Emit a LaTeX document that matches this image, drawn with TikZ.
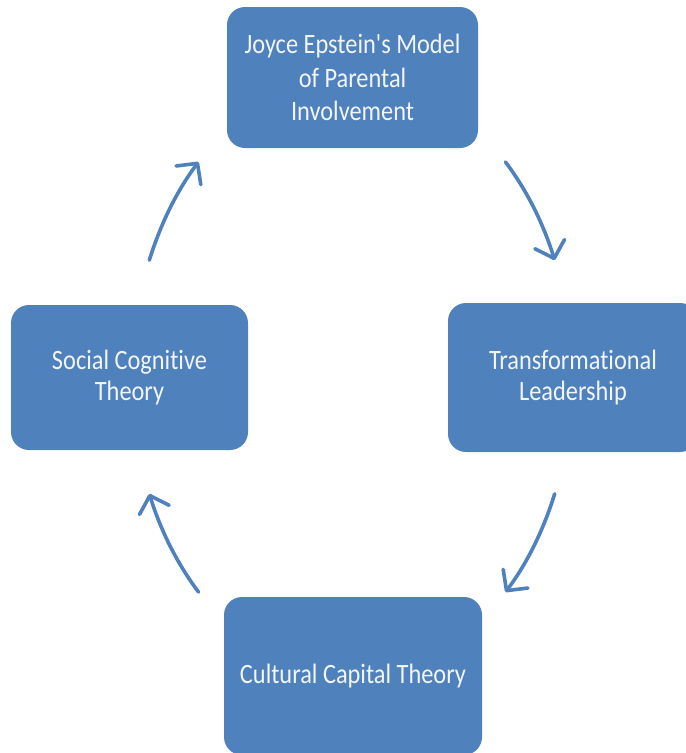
\documentclass[tikz,border=0pt]{standalone}
\usepackage{fontspec}
\newfontfamily\labelfont{Carlito}[FakeStretch=0.87,Ligatures=NoCommon]
\usetikzlibrary{arrows.meta}
\definecolor{cycleblue}{HTML}{4F81BD}
\definecolor{labelwhite}{HTML}{F2F5FA}
\begin{document}
\begin{tikzpicture}[x=1pt,y=1pt,
  stage/.style={rectangle, rounded corners=18pt, fill=cycleblue, text=labelwhite,
    align=center, inner sep=0pt, font=\labelfont\fontsize{28}{31}\selectfont},
  cyclearrow/.style={draw=cycleblue, line width=3.6pt, line cap=round,
    -{Straight Barb[length=15pt,width=31pt,line cap=round,line join=round]}}]
  % page frame
  \useasboundingbox (0,0) rectangle (686,-753);
  \clip (0,0) rectangle (686,-753);

  % the four stages
  \node[stage, minimum width=251pt, minimum height=141pt,
        font=\labelfont\fontsize{28}{33.5}\selectfont] (epstein) at (352.5,-77.5)
    {Joyce Epstein's Model\\of Parental\\Involvement};
  \node[stage, minimum width=250pt, minimum height=149pt] (leader) at (573,-377.5)
    {Transformational\\Leadership};
  \node[stage, minimum width=258pt, minimum height=158pt] (capital) at (353,-676)
    {Cultural Capital Theory};
  \node[stage, minimum width=237pt, minimum height=145pt] (social) at (129.5,-377.5)
    {Social Cognitive\\Theory};

  % centres of the guiding ellipse for the left and right arrows
  \coordinate (cl) at (350,-377);
  \coordinate (cr) at (354,-377);
  \path (cl) ++(157:218pt and 299pt) coordinate (a1)
        (cr) ++(46:218pt and 299pt)  coordinate (a2)
        (cr) ++(-23:218pt and 299pt) coordinate (a3)
        (cl) ++(-134:218pt and 299pt) coordinate (a4);

  % clockwise arrows between the stages
  \draw[cyclearrow] (a1) arc[start angle=157, end angle=134, x radius=218pt, y radius=299pt];
  \draw[cyclearrow] (a2) arc[start angle=46, end angle=23, x radius=218pt, y radius=299pt];
  \draw[cyclearrow] (a3) arc[start angle=-23, end angle=-46, x radius=218pt, y radius=299pt];
  \draw[cyclearrow] (a4) arc[start angle=-134, end angle=-157, x radius=218pt, y radius=299pt];
\end{tikzpicture}
\end{document}
